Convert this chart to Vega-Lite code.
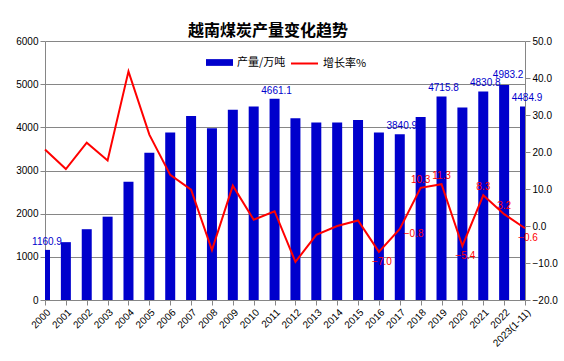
{
  "$schema": "https://vega.github.io/schema/vega-lite/v6.json",
  "autosize": {"type": "none"},
  "width": 480,
  "height": 259,
  "padding": {"left": 45, "top": 41, "right": 39, "bottom": 61},
  "background": "white",
  "title": {"text": "越南煤炭产量变化趋势", "font": "Noto Sans CJK SC", "fontSize": 16, "fontWeight": "bold", "color": "black", "anchor": "middle", "offset": -3, "dx": -17},
  "config": {
    "view": {"stroke": null},
    "font": "Liberation Sans",
    "axis": {"domainColor": "#868686", "tickColor": "#868686", "labelColor": "black", "labelFont": "Liberation Sans", "labelFontSize": 10, "title": null, "tickSize": 5},
    "legend": {"labelFont": "Noto Sans CJK SC", "labelFontSize": 11, "labelColor": "black", "padding": 0}
  },
  "data": {"values": [
    {"year": "2000", "output": 1160.9, "growth": 20.7},
    {"year": "2001", "output": 1340, "growth": 15.4},
    {"year": "2002", "output": 1640, "growth": 22.5},
    {"year": "2003", "output": 1930, "growth": 17.7},
    {"year": "2004", "output": 2740, "growth": 41.8},
    {"year": "2005", "output": 3410, "growth": 24.7},
    {"year": "2006", "output": 3880, "growth": 13.8},
    {"year": "2007", "output": 4260, "growth": 9.8},
    {"year": "2008", "output": 3980, "growth": -6.5},
    {"year": "2009", "output": 4410, "growth": 10.9},
    {"year": "2010", "output": 4480, "growth": 1.7},
    {"year": "2011", "output": 4661.1, "growth": 4.0},
    {"year": "2012", "output": 4210, "growth": -9.7},
    {"year": "2013", "output": 4110, "growth": -2.4},
    {"year": "2014", "output": 4110, "growth": 0.0},
    {"year": "2015", "output": 4170, "growth": 1.5},
    {"year": "2016", "output": 3880, "growth": -7.0},
    {"year": "2017", "output": 3840.9, "growth": -0.8},
    {"year": "2018", "output": 4237, "growth": 10.3},
    {"year": "2019", "output": 4715.8, "growth": 11.3},
    {"year": "2020", "output": 4461, "growth": -5.4},
    {"year": "2021", "output": 4830.8, "growth": 8.3},
    {"year": "2022", "output": 4983.2, "growth": 3.2},
    {"year": "2023(1-11)", "output": 4484.9, "growth": -0.6}
  ]},
  "encoding": {
    "x": {"field": "year", "type": "ordinal", "sort": null, "scale": {"type": "point", "padding": 0},
      "axis": {"labelAngle": -45, "labelAlign": "right", "labelBaseline": "top", "labelPadding": 2, "grid": false, "labelFontSize": 10}}
  },
  "layer": [
    {
      "encoding": {
        "y": {"field": "output", "type": "quantitative", "scale": {"domain": [0, 6000], "nice": false},
          "axis": {"orient": "left", "values": [0, 1000, 2000, 3000, 4000, 5000, 6000], "format": "d", "grid": true, "gridColor": "#868686", "gridOpacity": 1, "labelPadding": 2}}
      },
      "layer": [
        {"mark": {"type": "bar", "width": 10, "clip": true},
         "encoding": {"fill": {"datum": "产量/万吨", "scale": {"range": ["#0000CC"]},
           "legend": {"title": null, "orient": "none", "legendX": 161, "legendY": 8, "symbolType": "M-1,-0.25H1V0.25H-1Z", "symbolSize": 729, "symbolStrokeWidth": 0, "labelOffset": 4}}}},
        {"transform": [{"filter": {"field": "year", "oneOf": ["2000", "2011", "2017", "2019", "2021", "2023(1-11)"]}}],
         "mark": {"type": "text", "baseline": "bottom", "dy": -3, "dx": 2, "color": "#0000CC", "fontSize": 10, "font": "Liberation Sans"},
         "encoding": {"text": {"field": "output", "type": "quantitative", "format": ".1f"}}},
        {"transform": [{"filter": {"field": "year", "oneOf": ["2022"]}}],
         "mark": {"type": "text", "baseline": "bottom", "dy": -5, "dx": 4, "color": "#0000CC", "fontSize": 10, "font": "Liberation Sans"},
         "encoding": {"text": {"field": "output", "type": "quantitative", "format": ".1f"}}}
      ]
    },
    {
      "encoding": {
        "y": {"field": "growth", "type": "quantitative", "scale": {"domain": [-20, 50], "nice": false},
          "axis": {"orient": "right", "values": [-20, -10, 0, 10, 20, 30, 40, 50], "format": ".1f", "grid": false, "labelPadding": 2}}
      },
      "layer": [
        {"mark": {"type": "line", "strokeWidth": 2},
         "encoding": {"stroke": {"datum": "增长率%", "scale": {"range": ["#FF0000"]},
           "legend": {"title": null, "orient": "none", "legendX": 245, "legendY": 8, "symbolType": "stroke", "symbolSize": 729, "symbolStrokeWidth": 2, "labelOffset": 4}}}},
        {"transform": [{"filter": {"field": "year", "oneOf": ["2018", "2019", "2021", "2022"]}}],
         "mark": {"type": "text", "baseline": "bottom", "dy": -3, "color": "#FF0000", "fontSize": 10, "font": "Liberation Sans"},
         "encoding": {"text": {"field": "growth", "type": "quantitative", "format": ".1f"}}},
        {"transform": [{"filter": {"field": "year", "oneOf": ["2016", "2020", "2023(1-11)"]}}],
         "mark": {"type": "text", "baseline": "top", "dy": 5, "dx": 3, "color": "#FF0000", "fontSize": 10, "font": "Liberation Sans"},
         "encoding": {"text": {"field": "growth", "type": "quantitative", "format": ".1f"}}},
        {"transform": [{"filter": {"field": "year", "oneOf": ["2017"]}}],
         "mark": {"type": "text", "align": "left", "dx": 4, "dy": 5, "color": "#FF0000", "fontSize": 10, "font": "Liberation Sans"},
         "encoding": {"text": {"field": "growth", "type": "quantitative", "format": ".1f"}}}
      ]
    }
  ],
  "resolve": {"scale": {"y": "independent"}}
}
